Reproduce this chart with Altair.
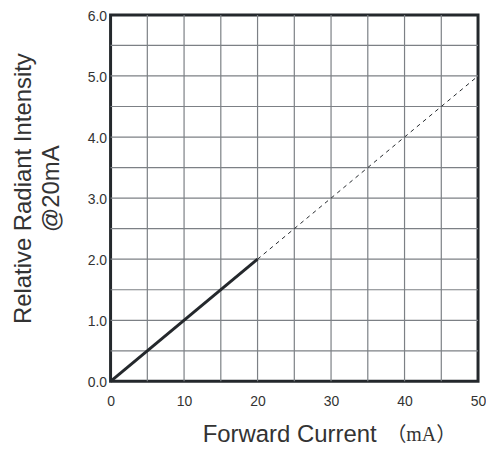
import altair as alt
import pandas as pd

# ---- data ----
current_solid = [0, 20]
intensity_solid = [0.0, 2.0]
current_dashed = [20, 50]
intensity_dashed = [2.0, 5.0]

x_ticks = [0, 10, 20, 30, 40, 50]
y_ticks = [0, 1, 2, 3, 4, 5, 6]
x_grid = [5, 10, 15, 20, 25, 30, 35, 40, 45]
y_grid = [0.5, 1.0, 1.5, 2.0, 2.5, 3.0, 3.5, 4.0, 4.5, 5.0, 5.5]

x_title = "Forward Current"
x_unit = ["（mA）"]
y_title = ["Relative Radiant Intensity", "@20mA"]

solid_df = pd.DataFrame({"current": current_solid, "intensity": intensity_solid})
dashed_df = pd.DataFrame({"current": current_dashed, "intensity": intensity_dashed})
xgrid_df = pd.DataFrame({"current": x_grid})
ygrid_df = pd.DataFrame({"intensity": y_grid})
unit_df = pd.DataFrame({"t": x_unit})

SANS = "Liberation Sans"
TXT = "#333333"
GRID = "#7c8085"
INK = "#24282c"

x_scale = alt.Scale(domain=[0, 50], nice=False, zero=False)
y_scale = alt.Scale(domain=[0, 6], nice=False, zero=False)

x_axis = alt.Axis(
    values=x_ticks, format="d",
    grid=False, domain=False, ticks=False, tickSize=0,
    labelPadding=13, labelFontSize=14, labelFont=SANS, labelColor=TXT,
    labelFlush=False, labelOverlap=False,
    title=x_title, titleFont=SANS, titleFontSize=24, titleFontWeight="normal", titleColor=TXT,
    titleAlign="left", titleAnchor="start", titleX=92, titleY=60, titleBaseline="alphabetic",
)

y_axis = alt.Axis(
    values=y_ticks, format=".1f",
    grid=False, domain=False, ticks=False, tickSize=0,
    labelPadding=4, labelFontSize=14, labelFont=SANS, labelColor=TXT,
    labelFlush=False, labelOverlap=False, labelOffset=1.5,
    title=y_title, titleFont=SANS, titleFontSize=24, titleFontWeight="normal", titleColor=TXT,
    titleAlign="center", titleBaseline="middle", titleLineHeight=28,
    titleX=-87, titleY=174, titleAngle=270,
)

X = lambda: alt.X("current:Q", scale=x_scale, axis=x_axis)
Y = lambda: alt.Y("intensity:Q", scale=y_scale, axis=y_axis)

xgrid = alt.Chart(xgrid_df).mark_rule(color=GRID, strokeWidth=1.2).encode(x=X())
ygrid = alt.Chart(ygrid_df).mark_rule(color=GRID, strokeWidth=1.2).encode(y=Y())

solid = alt.Chart(solid_df).mark_line(color=INK, strokeWidth=3).encode(x=X(), y=Y())

dashed = alt.Chart(dashed_df).mark_line(color=INK, strokeWidth=1, strokeDash=[4, 4]).encode(
    x=X(), y=Y()
)

unit = alt.Chart(unit_df).mark_text(
    align="left", baseline="alphabetic", fontSize=20, color=TXT,
    font="'Liberation Serif', 'Noto Sans CJK SC'",
).encode(x=alt.value(277), y=alt.value(428), text="t:N")

chart = alt.layer(xgrid, ygrid, solid, dashed, unit).properties(
    width=369, height=368,
    padding={"left": 103, "top": 6, "right": 8, "bottom": 66},
    autosize="none",
    background="white",
).configure_view(stroke=INK, strokeWidth=3)

chart.save("out.html", embed_options={"renderer": "svg", "actions": False})
